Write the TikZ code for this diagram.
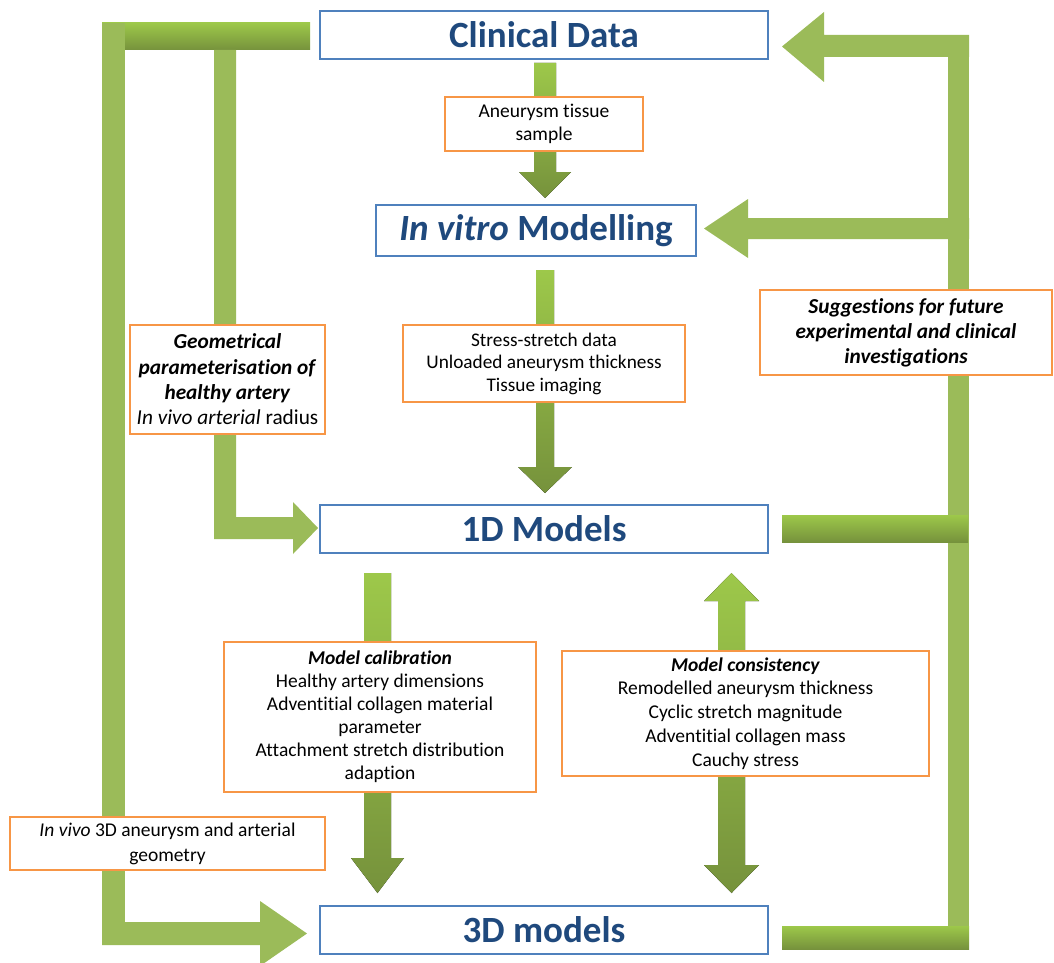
\documentclass[tikz,border=0pt]{standalone}
\usepackage{fontspec}
\setmainfont[Ligatures={NoCommon}]{Carlito}
\definecolor{boxblue}{RGB}{79,129,189}
\definecolor{titleblue}{RGB}{31,73,125}
\definecolor{boxorange}{RGB}{247,150,70}
\definecolor{gflat}{RGB}{155,187,89}
\definecolor{glight}{RGB}{157,200,74}
\definecolor{gdark}{RGB}{118,146,60}
\tikzset{
  titlebox/.style={draw=boxblue, line width=2.5pt, fill=white, text=titleblue,
    font=\fontsize{37}{44}\selectfont\bfseries, minimum width=448pt, minimum height=48pt, inner sep=0pt},
  labelbox/.style={draw=boxorange, line width=2.5pt, fill=white, align=center,
    font=\fontsize{19.5}{23}\selectfont, inner sep=0pt},
  gradbar/.style={top color=glight, bottom color=gdark},
  flatbar/.style={fill=gflat},
}
\begin{document}
\begin{tikzpicture}[x=1pt,y=-1pt]
\useasboundingbox (0,0) rectangle (1054,963);
\begin{scope}
\clip (0,0) rectangle (1054,963);
% ---------- left structure ----------
\fill[gradbar] (102,23) rectangle (310,50);
\fill[flatbar] (102,23) rectangle (125,945);
\fill[flatbar] (102,922) -- (260,922) -- (260,901) -- (307,933.5) -- (260,966) -- (260,945) -- (102,945) -- cycle;
\fill[flatbar] (214,50) -- (236,50) -- (236,517) -- (293,517) -- (293,502) -- (318,528) -- (293,554) -- (293,539) -- (214,539) -- cycle;
% ---------- right structure ----------
\fill[flatbar] (948,35) rectangle (969,949);
\fill[flatbar] (969,35) -- (824,35) -- (824,12) -- (782,46.5) -- (824,82) -- (824,57) -- (969,57) -- cycle;
\fill[flatbar] (969,218) -- (748,218) -- (748,199) -- (704,228.5) -- (748,258) -- (748,239) -- (969,239) -- cycle;
\fill[gradbar] (782,515) rectangle (968,542);
\fill[gradbar] (782,926) rectangle (969,949);
% ---------- vertical block arrows ----------
\fill[gradbar] (534,63) -- (556,63) -- (556,172) -- (571,172) -- (545,198) -- (519,172) -- (534,172) -- cycle;
\fill[gradbar] (536,270) -- (554,270) -- (554,467) -- (572,467) -- (545,493) -- (518,467) -- (536,467) -- cycle;
\fill[gradbar] (364,573) -- (391,573) -- (391,858) -- (404,858) -- (377.5,893) -- (351,858) -- (364,858) -- cycle;
\fill[gradbar] (731.5,573) -- (759,601) -- (745,601) -- (745,865) -- (759,865) -- (731.5,893) -- (704,865) -- (718,865) -- (718,601) -- (704,601) -- cycle;
\end{scope}
% ---------- main boxes ----------
\node[titlebox] (clin) at (544,35) {Clinical Data};
\node[titlebox, minimum width=320pt, minimum height=51pt] (vitro) at (536,230.5) {\textit{In vitro} Modelling};
\node[titlebox] (oneD) at (544,529) {1D Models};
\node[titlebox] (threeD) at (544,930) {3D models};
% ---------- labels ----------
\node[labelbox, minimum width=198pt, minimum height=54pt] (tissue) at (544,124) {Aneurysm tissue\\sample};
\node[labelbox, minimum width=282pt, minimum height=77pt, font=\fontsize{19.3}{22.5}\selectfont] (stress) at (544,363.5) {Stress-stretch data\\Unloaded aneurysm thickness\\Tissue imaging};
\node[labelbox, minimum width=195pt, minimum height=109pt, font=\fontsize{21.3}{25.3}\selectfont] (geo) at (227.5,379.5)
  {\textbf{\textit{Geometrical}}\\\textbf{\textit{parameterisation of}}\\\textbf{\textit{healthy artery}}\\\textit{In vivo arterial} radius};
\node[labelbox, minimum width=292pt, minimum height=85pt, font=\fontsize{21.3}{25}\selectfont\bfseries\itshape] (sugg) at (906,332.5)
  {Suggestions for future\\experimental and clinical\\investigations};
\node[labelbox, minimum width=312pt, minimum height=150pt] (calib) at (380,717)
  {\textbf{\textit{Model calibration}}\\Healthy artery dimensions\\Adventitial collagen material\\parameter\\Attachment stretch distribution\\adaption};
\node[labelbox, minimum width=367pt, minimum height=125pt, font=\fontsize{19.5}{23.8}\selectfont] (consist) at (745.5,713.5)
  {\textbf{\textit{Model consistency}}\\Remodelled aneurysm thickness\\Cyclic stretch magnitude\\Adventitial collagen mass\\Cauchy stress};
\node[labelbox, minimum width=315pt, minimum height=53pt, font=\fontsize{19.5}{25}\selectfont] (invivo) at (167.5,843.5)
  {\textit{In vivo} 3D aneurysm and arterial\\geometry};
\end{tikzpicture}
\end{document}
